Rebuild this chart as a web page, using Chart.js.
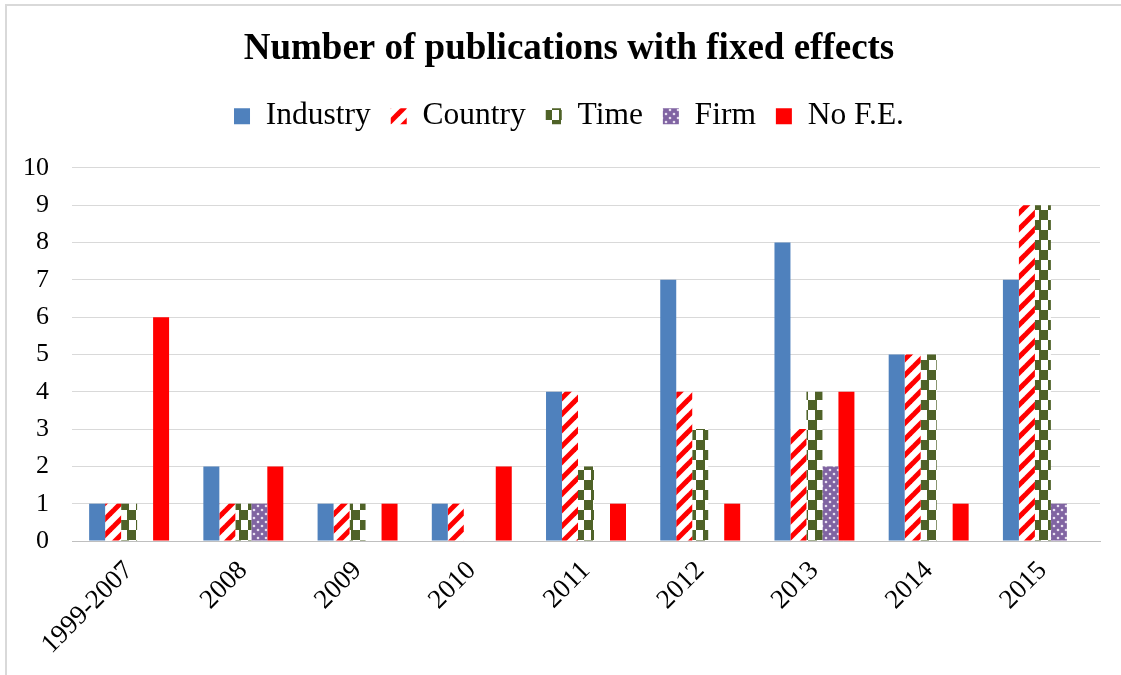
<!DOCTYPE html>
<html>
<head>
<meta charset="utf-8">
<script src="https://cdn.jsdelivr.net/npm/chart.js@4/dist/chart.umd.min.js"></script>
<style>
    html, body { margin: 0; padding: 0; background: #fff; overflow: hidden; }
    #frame {
        position: absolute; left: 5px; top: 4px;
        width: 1130px; height: 690px;
        border: 2px solid #d9d9d9;
    }
    #wrap { position: absolute; left: 0; top: 0; width: 1121px; height: 675px; }
</style>
</head>
<body>
<div id="frame"></div>
<div id="wrap"><canvas id="pubChart" width="1121" height="675"></canvas></div>
<script>
// Data
const categories = ['1999-2007', '2008', '2009', '2010', '2011', '2012', '2013', '2014', '2015'];
const industry = [1, 2, 1, 1, 4, 7, 8, 5, 7];
const country  = [1, 1, 1, 1, 4, 4, 3, 5, 9];
const time     = [1, 1, 1, 0, 2, 3, 4, 5, 9];
const firm     = [0, 1, 0, 0, 0, 0, 2, 0, 1];
const noFE     = [6, 2, 1, 2, 1, 1, 4, 1, 0];
const yTicks   = [0, 1, 2, 3, 4, 5, 6, 7, 8, 9, 10];

const serif = "'Liberation Serif', 'Times New Roman', serif";

// Pattern helpers
function makeTile(w, h, draw) {
    const c = document.createElement('canvas');
    c.width = w; c.height = h;
    draw(c.getContext('2d'), w, h);
    return document.createElement('canvas').getContext('2d').createPattern(c, 'repeat');
}

const stripes = makeTile(16, 16, (g, w, h) => {
    g.fillStyle = '#fff';
    g.fillRect(0, 0, w, h);
    g.strokeStyle = '#ff0000';
    g.lineWidth = 5;
    for (let o = -16; o <= 32; o += 16) {
        g.beginPath();
        g.moveTo(o - 8, h + 8);
        g.lineTo(o + w + 8, -8);
        g.stroke();
    }
});

const checker = makeTile(16, 20, (g, w, h) => {
    g.fillStyle = '#fff';
    g.fillRect(0, 0, w, h);
    g.fillStyle = '#4f6228';
    g.fillRect(8, 0, 8, 10);
    g.fillRect(0, 10, 8, 10);
    g.fillRect(0, 0, 1, 10);
    g.fillRect(15, 10, 1, 10);
});

const dots = makeTile(8, 8, (g, w, h) => {
    g.fillStyle = '#8064a2';
    g.fillRect(0, 0, w, h);
    g.fillStyle = '#e8e0f0';
    g.beginPath(); g.arc(2, 2, 1.3, 0, Math.PI * 2); g.fill();
    g.beginPath(); g.arc(6, 6, 1.3, 0, Math.PI * 2); g.fill();
});

// push the plot area down below the legend
const legendGap = {
    id: 'legendGap',
    beforeInit(chart) {
        const fit = chart.legend.fit;
        chart.legend.fit = function () {
            fit.bind(chart.legend)();
            this.height += 26;
        };
    }
};

const ctx = document.getElementById('pubChart').getContext('2d');

new Chart(ctx, {
    type: 'bar',
    data: {
        labels: categories,
        datasets: [
            { label: 'Industry', data: industry, backgroundColor: '#4f81bd' },
            { label: 'Country', data: country, backgroundColor: stripes },
            { label: 'Time', data: time, backgroundColor: checker },
            { label: 'Firm', data: firm, backgroundColor: dots },
            { label: 'No F.E.', data: noFE, backgroundColor: '#ff0000' }
        ]
    },
    options: {
        responsive: false,
        animation: false,
        layout: { padding: { top: 5, right: 21, left: 38, bottom: 0 } },
        datasets: {
            bar: { categoryPercentage: 0.7, barPercentage: 1.0, borderWidth: 0 }
        },
        scales: {
            x: {
                grid: { display: false },
                border: { color: '#bfbfbf', width: 1 },
                ticks: {
                    color: '#000',
                    font: { family: serif, size: 27 },
                    minRotation: 45, maxRotation: 45,
                    padding: 6
                },
                afterFit(scale) { scale.height = 134; }
            },
            y: {
                min: 0, max: 10,
                afterBuildTicks(scale) { scale.ticks = yTicks.map(v => ({ value: v })); },
                grid: { color: '#d9d9d9', lineWidth: 1, drawTicks: false },
                border: { display: false },
                ticks: {
                    color: '#000',
                    font: { family: serif, size: 26 },
                    padding: 23
                },
                afterFit(scale) {
                    scale.width = 34;
                    // labels reach left of the narrow scale box, so don't clip them
                    scale._computeLabelArea = () => undefined;
                }
            }
        },
        plugins: {
            title: {
                display: true,
                text: 'Number of publications with fixed effects',
                color: '#000',
                font: { family: serif, size: 37, weight: 'bold' },
                padding: { top: 22, bottom: 9 }
            },
            legend: {
                position: 'top',
                labels: {
                    color: '#000',
                    font: { family: serif, size: 31.5 },
                    boxWidth: 16, boxHeight: 16,
                    padding: 20
                }
            },
            tooltip: { enabled: false }
        }
    },
    plugins: [legendGap]
});
</script>
</body>
</html>
